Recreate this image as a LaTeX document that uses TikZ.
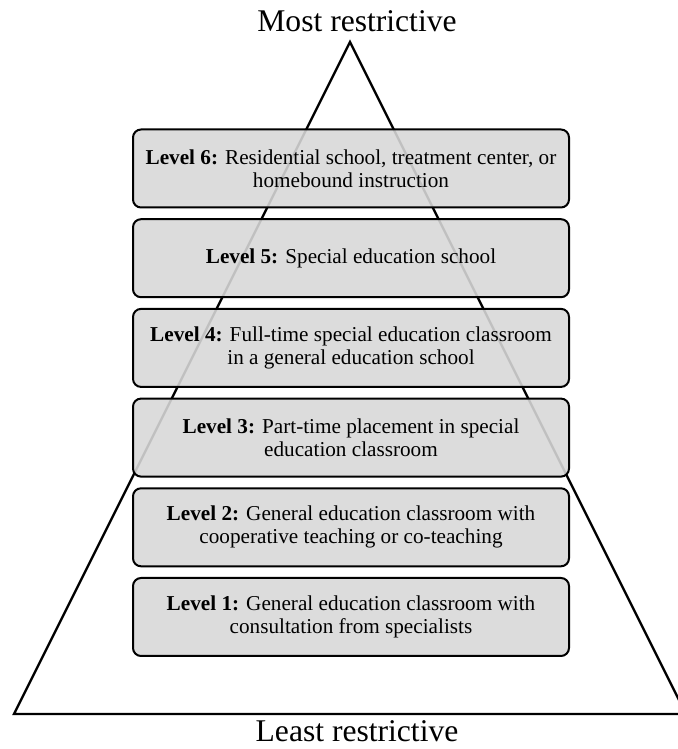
\documentclass[tikz,border=0pt]{standalone}
\usepackage{fontspec}
\setmainfont{Liberation Serif}
\usetikzlibrary{positioning,backgrounds}
\definecolor{ink}{HTML}{000000}
\definecolor{boxfill}{HTML}{D8D8D8}

\begin{document}
\begin{tikzpicture}[
  x=1pt, y=1pt,
  font=\fontsize{21.2}{22.8}\selectfont,
  level/.style = {draw=ink, line width=2pt, rounded corners=8pt, fill=boxfill,
                  fill opacity=0.89, text opacity=1, align=center, outer sep=0pt,
                  minimum width=436pt, minimum height=78pt, inner sep=3pt},
  tri/.style   = {draw=ink, line width=2.3pt, line join=miter},
  endlab/.style = {font=\fontsize{31.6}{34}\selectfont, anchor=base, inner sep=0pt},
]
\useasboundingbox (0,0) rectangle (677,749);
\clip (0,0) rectangle (677,749);

% ---------- pyramid ----------
\coordinate (apex)  at (350,707);
\coordinate (baseL) at (14,35);
\coordinate (baseR) at (686,35);

% ---------- levels ----------
\node[level] (lv1) at (351,132)
  {\textbf{Level 1:} General education classroom with\\ consultation from specialists};
\node[level, above=11.7pt of lv1] (lv2)
  {\textbf{Level 2:} General education classroom with\\ cooperative teaching or co-teaching};
\node[level, above=11.7pt of lv2] (lv3)
  {\textbf{Level 3:} Part-time placement in special\\ education classroom};
\node[level, above=11.7pt of lv3] (lv4)
  {\textbf{Level 4:} Full-time special education classroom\\ in a general education school};
\node[level, above=11.7pt of lv4] (lv5)
  {\textbf{Level 5:} Special education school};
\node[level, above=11.7pt of lv5] (lv6)
  {\textbf{Level 6:} Residential school, treatment center, or\\ homebound instruction};

\begin{scope}[on background layer]
  \draw[tri] (apex) -- (baseR) -- (baseL) -- cycle;
\end{scope}

% ---------- labels ----------
\node[endlab] (most)  at (357,717) {Most restrictive};
\node[endlab] (least) at (357,7)   {Least restrictive};

\end{tikzpicture}
\end{document}
